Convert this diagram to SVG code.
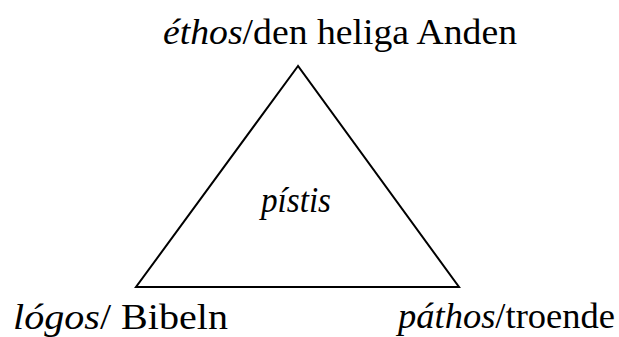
<svg xmlns="http://www.w3.org/2000/svg" width="619" height="337" viewBox="0 0 619 337">
<style>
text{font-family:"Liberation Serif",serif;font-size:35px;fill:#000}
.i{font-style:italic}
.tri{fill:none;stroke:#000;stroke-width:2;stroke-linejoin:miter}
</style>
<rect width="619" height="337" fill="#fff"/>
<g id="connectors">
<polygon class="tri" points="298,66 136,287 459,287"/>
</g>
<g id="node-ethos">
<text x="163" y="44" textLength="354" lengthAdjust="spacingAndGlyphs"><tspan class="i">éthos</tspan>/den heliga Anden</text>
</g>
<g id="node-pistis">
<text class="i" x="261" y="212" textLength="70" lengthAdjust="spacingAndGlyphs">pístis</text>
</g>
<g id="node-logos">
<text x="13" y="329" textLength="215" lengthAdjust="spacingAndGlyphs"><tspan class="i">lógos</tspan>/ Bibeln</text>
</g>
<g id="node-pathos">
<text x="398" y="328" textLength="217" lengthAdjust="spacingAndGlyphs"><tspan class="i">páthos</tspan>/troende</text>
</g>
</svg>
